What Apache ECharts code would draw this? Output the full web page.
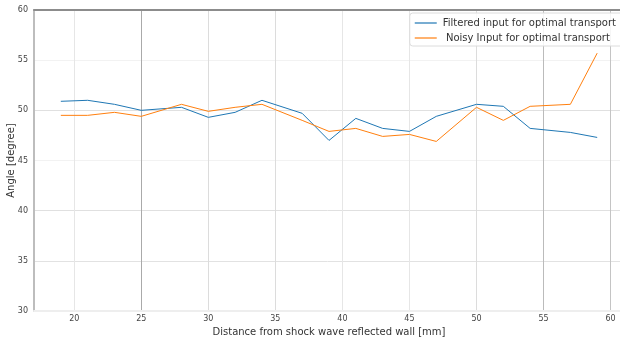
<!DOCTYPE html>
<html>
<head>
<meta charset="utf-8">
<script src="https://cdn.jsdelivr.net/npm/echarts@6/dist/echarts.min.js"></script>
<style>html,body{margin:0;padding:0;background:#fff;}#c{width:620px;height:341px;}</style>
</head>
<body>
<div id="c"></div>
<script>
const xFiltered = [19, 21, 23, 25, 28, 30, 32, 34, 37, 39, 41, 43, 45, 47, 50, 52, 54, 57, 59];
const yFiltered = [50.9, 51.0, 50.6, 50.0, 50.3, 49.3, 49.8, 51.0, 49.7, 47.0, 49.2, 48.2, 47.9, 49.4, 50.6, 50.4, 48.2, 47.8, 47.3];
const xNoisy = [19, 21, 23, 25, 28, 30, 32, 34, 37, 39, 41, 43, 45, 47, 50, 52, 54, 57, 59];
const yNoisy = [49.5, 49.5, 49.8, 49.4, 50.6, 49.9, 50.3, 50.6, 49.0, 47.9, 48.2, 47.4, 47.6, 46.9, 50.3, 49.0, 50.4, 50.6, 55.7];
const xTicks = [20, 25, 30, 35, 40, 45, 50, 55, 60];
const seriesNames = ['Filtered input for optimal transport', ' Noisy Input for optimal transport'];
const xTitle = 'Distance from shock wave reflected wall [mm]';
const yTitle = 'Angle [degree]';

const pairs = (xs, ys) => xs.map((x, i) => [x, ys[i]]);
const font = 'DejaVu Sans';

const chart = echarts.init(document.getElementById('c'), null, {renderer: 'canvas'});
chart.setOption({
  animation: false,
  backgroundColor: '#fff',
  grid: {left: 34, right: -4, top: 10, bottom: 30, containLabel: false, outerBoundsMode: 'none'},
  legend: {
    orient: 'vertical',
    right: -6,
    top: 13,
    icon: 'rect',
    itemWidth: 22,
    itemHeight: 1.2,
    itemGap: 5,
    padding: [5, 10, 3, 5],
    backgroundColor: 'rgba(255,255,255,0.85)',
    borderColor: '#dcdcdc',
    borderWidth: 1,
    borderRadius: 3,
    textStyle: {fontFamily: font, fontSize: 10, color: '#333', padding: [0, 0, 0, 1]},
    data: seriesNames
  },
  xAxis: [{
    type: 'value',
    min: 17,
    max: 61,
    name: xTitle,
    nameLocation: 'middle',
    nameGap: 16,
    nameMoveOverlap: false,
    nameTextStyle: {fontFamily: font, fontSize: 10, color: '#333'},
    axisLine: {show: true, lineStyle: {color: '#eeeeee', width: 2}},
    axisTick: {show: false, customValues: xTicks},
    axisLabel: {customValues: xTicks, fontFamily: font, fontSize: 8, color: '#444', margin: 4},
    splitLine: {show: true, lineStyle: {width: 1, color: ['#e6e6e6', '#aaaaaa', '#dcdcdc', '#dcdcdc', '#e6e6e6', '#e6e6e6', '#dcdcdc', '#bbbbbb', '#c4c4c4']}}
  }, {
    type: 'value',
    position: 'top',
    min: 17,
    max: 61,
    axisLine: {show: true, lineStyle: {color: '#8c8c8c', width: 2}},
    axisTick: {show: false},
    axisLabel: {show: false},
    splitLine: {show: false}
  }],
  yAxis: {
    type: 'value',
    min: 30,
    max: 60,
    interval: 5,
    name: yTitle,
    nameLocation: 'middle',
    nameGap: 18,
    nameMoveOverlap: false,
    nameTextStyle: {fontFamily: font, fontSize: 10, color: '#333'},
    axisLine: {show: true, lineStyle: {color: '#bdbdbd', width: 2}},
    axisTick: {show: false},
    axisLabel: {fontFamily: font, fontSize: 8, color: '#444', margin: 6},
    splitLine: {show: true, lineStyle: {width: 1, color: ['#eeeeee', '#e2e2e2', '#e0e0e0', '#f2f2f2', '#e0e0e0', '#f2f2f2', '#8c8c8c']}}
  },
  series: [{
    name: seriesNames[0],
    type: 'line',
    data: pairs(xFiltered, yFiltered),
    symbol: 'none',
    lineStyle: {color: '#1f77b4', width: 1},
    itemStyle: {color: '#1f77b4'}
  }, {
    name: seriesNames[1],
    type: 'line',
    data: pairs(xNoisy, yNoisy),
    symbol: 'none',
    lineStyle: {color: '#ff7f0e', width: 1},
    itemStyle: {color: '#ff7f0e'}
  }]
});
</script>
</body>
</html>
